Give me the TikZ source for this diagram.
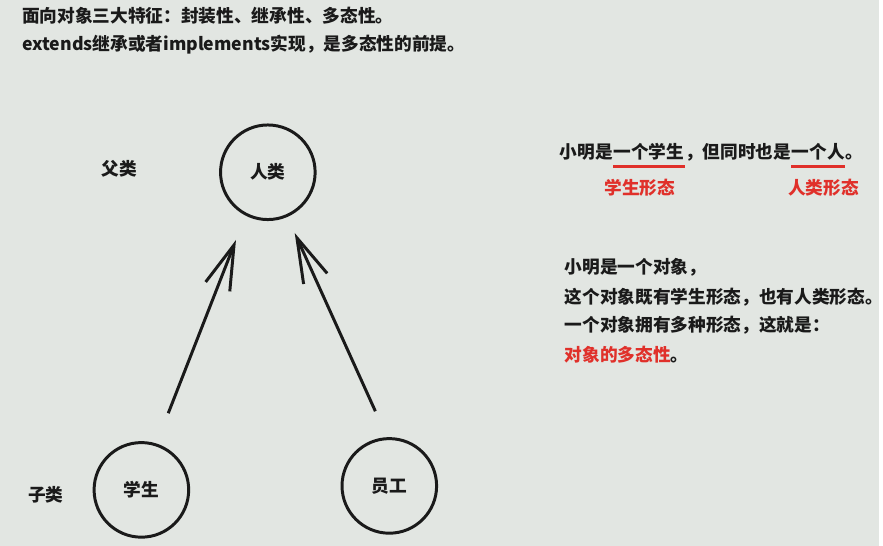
\documentclass[tikz,border=0pt]{standalone}
\usepackage{fontspec}
\setmainfont{Noto Sans CJK SC}
\usetikzlibrary{arrows.meta,positioning,calc}
\definecolor{polyBg}{HTML}{E2E6E2}
\definecolor{polyInk}{HTML}{1A1A1A}
\definecolor{polyRed}{HTML}{E0302A}

\begin{document}
\begin{tikzpicture}[font=\fontsize{10.1pt}{12pt}\selectfont\bfseries,text=polyInk,
    leibie/.style={draw=polyInk,circle,line width=1.7pt,minimum size=1.9cm,inner sep=0pt},
    jicheng/.style={draw=polyInk,line width=1.7pt,
      -{Straight Barb[length=0.9cm,width=0.52cm,line width=1.7pt]}},
    hang/.style={anchor=west,inner sep=0pt},
    duan/.style={anchor=base west,inner sep=0pt},
    xian/.style={draw=polyRed,line width=1.5pt}]
  \fill[polyBg] (0,0) rectangle (17.66,-10.96);

  % title lines
  \node[hang] (biaoti1) at (0.44,-0.32) {面向对象三大特征：封装性、继承性、多态性。};
  \node[hang] (biaoti2) at (0.44,-0.90) {extends继承或者implements实现，是多态性的前提。};

  % classes
  \node[leibie] (renlei)   at (5.38,-3.46) {人类};
  \node[leibie] (xuesheng) at (2.84,-9.84) {学生};
  \node[leibie] (yuangong) at (7.82,-9.76) {员工};
  \node[inner sep=0pt] (fulei) at (2.40,-3.40) {父类};
  \node[inner sep=0pt] (zilei) at (0.92,-9.94) {子类};

  \draw[jicheng] ([shift={(0.54,1.54)}]xuesheng.center) -- ([shift={(-0.64,-1.36)}]renlei.center);
  \draw[jicheng] ([shift={(-0.28,1.50)}]yuangong.center) -- ([shift={(0.54,-1.22)}]renlei.center);

  % sentence with underlined parts
  \node[duan] (ju1) at (11.24,-3.18) {小明是};
  \node[duan] (ju2) at (ju1.base east) {一个学生};
  \node[duan] (ju3) at (ju2.base east) {，但同时也是};
  \node[duan] (ju4) at (ju3.base east) {一个人};
  \node[duan] (ju5) at (ju4.base east) {。};
  \draw[xian] ([yshift=-4.6pt]ju2.base west) -- ([yshift=-4.6pt]ju2.base east);
  \draw[xian] ([yshift=-4.6pt]ju4.base west) -- ([yshift=-4.6pt]ju4.base east);
  \node[inner sep=0pt,text=polyRed] (xsxt) at (12.85,-3.78) {学生形态};
  \node[inner sep=0pt,text=polyRed] (rlxt) at (16.54,-3.78) {人类形态};

  % explanation
  \node[hang] (shuo1) at (11.34,-5.36) {小明是一个对象，};
  \node[hang] (shuo2) at (11.34,-5.96) {这个对象既有学生形态，也有人类形态。};
  \node[hang] (shuo3) at (11.34,-6.54) {一个对象拥有多种形态，这就是：};
  \node[hang] (shuo4) at (11.34,-7.12) {\textcolor{polyRed}{对象的多态性}。};
\end{tikzpicture}
\end{document}
